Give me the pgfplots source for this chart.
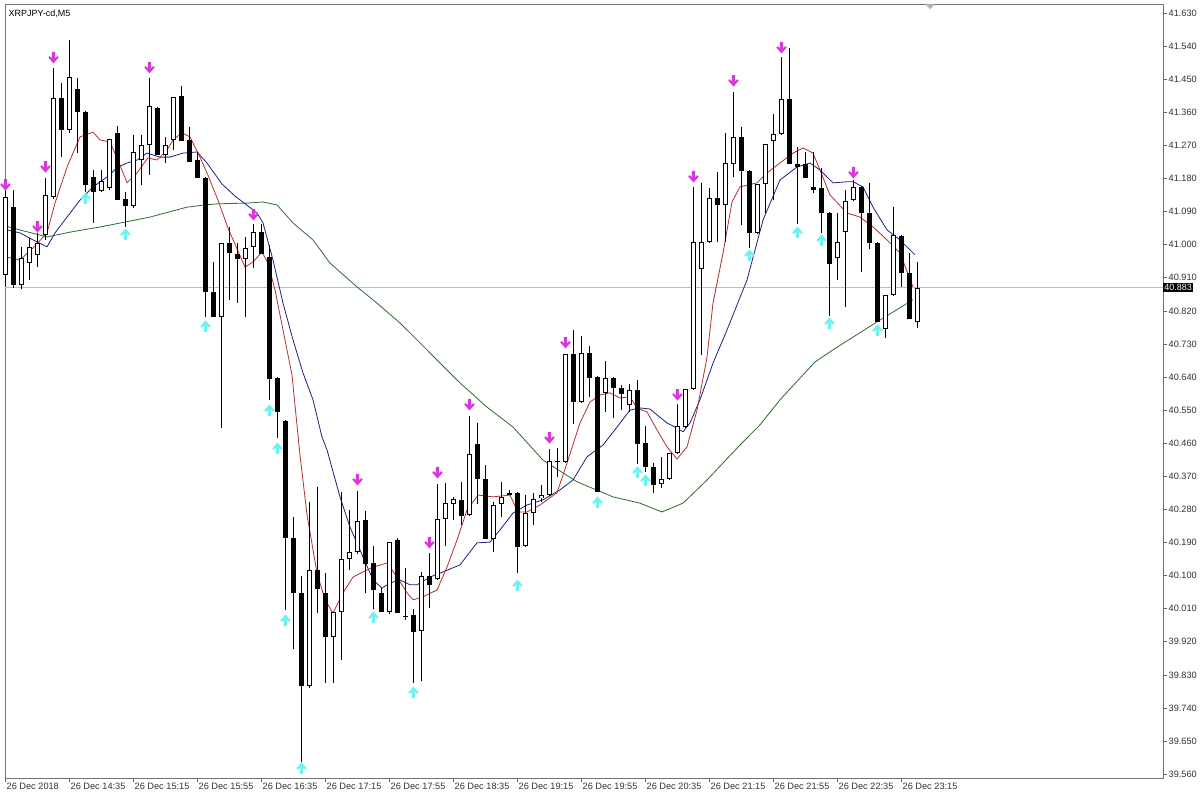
\documentclass[border=0pt]{standalone}
\usepackage{pgfplots}
\pgfplotsset{compat=1.18}
\usepackage{pgfplotstable}
\usepackage{fontspec}
\setmainfont{Liberation Sans}

\definecolor{magarrow}{RGB}{216,56,216}
\definecolor{cyanarrow}{RGB}{112,240,240}
\definecolor{fastma}{RGB}{176,48,48}
\definecolor{midma}{RGB}{32,32,128}
\definecolor{slowma}{RGB}{46,107,46}

\pgfdeclareplotmark{dnarrow}{%
  \pgfpathmoveto{\pgfpoint{-1.7bp}{6bp}}%
  \pgfpathlineto{\pgfpoint{1.7bp}{6bp}}%
  \pgfpathlineto{\pgfpoint{1.7bp}{-0.3bp}}%
  \pgfpathlineto{\pgfpoint{3.8bp}{1.8bp}}%
  \pgfpathlineto{\pgfpoint{5.2bp}{0.4bp}}%
  \pgfpathlineto{\pgfpoint{0bp}{-5.6bp}}%
  \pgfpathlineto{\pgfpoint{-5.2bp}{0.4bp}}%
  \pgfpathlineto{\pgfpoint{-3.8bp}{1.8bp}}%
  \pgfpathlineto{\pgfpoint{-1.7bp}{-0.3bp}}%
  \pgfpathclose\pgfusepathqfill}
\pgfdeclareplotmark{uparrow}{%
  \pgfpathmoveto{\pgfpoint{-1.7bp}{-6bp}}%
  \pgfpathlineto{\pgfpoint{1.7bp}{-6bp}}%
  \pgfpathlineto{\pgfpoint{1.7bp}{0.3bp}}%
  \pgfpathlineto{\pgfpoint{3.8bp}{-1.8bp}}%
  \pgfpathlineto{\pgfpoint{5.2bp}{-0.4bp}}%
  \pgfpathlineto{\pgfpoint{0bp}{5.6bp}}%
  \pgfpathlineto{\pgfpoint{-5.2bp}{-0.4bp}}%
  \pgfpathlineto{\pgfpoint{-3.8bp}{-1.8bp}}%
  \pgfpathlineto{\pgfpoint{-1.7bp}{0.3bp}}%
  \pgfpathclose\pgfusepathqfill}

% bullish (white) candles: index, open, high, low, close
\pgfplotstableread{
k o h l c
0 40.918 41.149 40.885 41.130
2 40.890 40.994 40.879 40.964
3 40.950 41.018 40.904 40.994
4 40.972 41.032 40.939 41.005
5 41.026 41.181 41.013 41.135
6 41.130 41.481 41.125 41.399
8 41.312 41.557 41.304 41.456
12 41.146 41.203 41.143 41.173
13 41.154 41.287 41.150 41.287
16 41.105 41.298 41.100 41.252
17 41.230 41.298 41.162 41.271
18 41.271 41.453 41.189 41.377
20 41.244 41.293 41.222 41.271
21 41.285 41.402 41.258 41.402
27 40.803 41.005 40.501 41.005
30 40.961 41.021 40.803 40.991
31 40.994 41.056 40.937 41.034
38 39.800 40.300 39.795 40.115
41 39.933 40.001 39.808 40.001
42 40.001 40.327 39.871 40.145
43 40.145 40.278 40.115 40.164
44 40.164 40.330 40.160 40.248
48 40.001 40.191 39.996 40.191
52 39.949 40.110 39.813 40.099
54 40.091 40.349 40.088 40.254
55 40.254 40.352 40.181 40.297
56 40.295 40.314 40.251 40.308
58 40.265 40.534 40.262 40.431
61 40.200 40.300 40.164 40.292
62 40.295 40.355 40.259 40.314
65 40.181 40.319 40.178 40.270
66 40.270 40.325 40.238 40.308
67 40.311 40.346 40.300 40.319
68 40.319 40.444 40.316 40.412
70 40.409 40.703 40.406 40.703
72 40.572 40.752 40.569 40.705
75 40.597 40.684 40.545 40.637
78 40.564 40.621 40.545 40.605
82 40.349 40.423 40.338 40.363
83 40.363 40.433 40.360 40.433
84 40.433 40.567 40.430 40.507
85 40.504 40.608 40.501 40.608
86 40.608 41.157 40.605 41.007
87 40.934 41.168 40.700 41.007
88 41.007 41.154 41.004 41.127
90 41.108 41.304 41.007 41.222
91 41.219 41.415 41.184 41.293
94 41.032 41.165 41.029 41.165
95 41.165 41.274 41.086 41.274
96 41.282 41.355 41.121 41.301
97 41.301 41.510 41.298 41.396
104 40.964 41.086 40.904 41.007
105 41.034 41.149 40.831 41.119
106 41.121 41.176 41.118 41.157
110 40.771 40.863 40.746 40.863
111 40.863 41.102 40.860 41.026
114 40.790 40.953 40.773 40.882
}\bull

% bearish (black) candles
\pgfplotstableread{
k o h l c
1 41.102 41.149 40.882 40.890
7 41.399 41.440 41.238 41.312
9 41.423 41.453 41.249 41.361
10 41.361 41.364 41.143 41.162
11 41.184 41.203 41.059 41.143
14 41.304 41.323 41.121 41.121
15 41.124 41.143 41.048 41.105
19 41.372 41.375 41.244 41.244
22 41.404 41.432 41.282 41.282
23 41.285 41.320 41.225 41.225
24 41.230 41.252 41.181 41.181
25 41.181 41.184 40.803 40.871
26 40.871 40.953 40.803 40.803
28 41.005 41.048 40.850 40.977
29 40.975 41.005 40.841 40.961
32 41.034 41.056 40.975 40.975
33 40.966 40.999 40.578 40.635
34 40.637 40.640 40.474 40.545
35 40.520 40.523 40.006 40.202
36 40.202 40.259 39.900 40.053
37 40.053 40.099 39.593 39.800
39 40.115 40.341 39.998 40.064
40 40.053 40.107 39.808 39.933
45 40.251 40.276 40.053 40.132
46 40.134 40.181 40.009 40.061
47 40.053 40.066 40.001 40.001
49 40.197 40.202 39.998 39.998
50 39.990 40.121 39.979 39.988
51 39.993 40.009 39.808 39.947
53 40.099 40.161 40.012 40.074
57 40.306 40.355 40.238 40.262
59 40.458 40.515 40.295 40.363
60 40.363 40.401 40.200 40.200
63 40.325 40.333 40.319 40.319
64 40.325 40.328 40.107 40.178
69 40.412 40.447 40.368 40.409
71 40.703 40.768 40.512 40.572
73 40.705 40.724 40.586 40.637
74 40.640 40.643 40.327 40.327
76 40.637 40.640 40.529 40.610
77 40.610 40.618 40.550 40.594
79 40.605 40.632 40.404 40.458
80 40.461 40.507 40.382 40.395
81 40.395 40.406 40.325 40.346
89 41.127 41.198 41.007 41.108
92 41.293 41.320 41.054 41.200
93 41.200 41.203 40.991 41.032
98 41.396 41.535 41.219 41.219
99 41.219 41.266 41.056 41.211
100 41.219 41.252 41.181 41.181
101 41.157 41.252 41.141 41.149
102 41.154 41.209 41.032 41.086
103 41.086 41.089 40.806 40.947
107 41.157 41.160 40.926 41.086
108 41.086 41.168 40.988 41.005
109 41.005 41.008 40.790 40.790
112 41.024 41.027 40.885 40.923
113 40.923 40.977 40.798 40.798
}\bear

\pgfplotstableread{
k p
0 41.162
4 41.048
5 41.211
6 41.508
18 41.481
31 41.081
44 40.360
53 40.189
54 40.379
58 40.564
68 40.474
70 40.733
84 40.591
86 41.184
91 41.445
97 41.535
106 41.195
}\sellarrows

\pgfplotstableread{
k p
10 41.127
15 41.029
25 40.779
33 40.550
34 40.447
35 39.979
37 39.577
46 39.987
51 39.783
64 40.074
74 40.300
79 40.382
80 40.360
93 40.972
99 41.034
102 41.013
103 40.787
109 40.768
}\buyarrows

\pgfplotstableread{
k p
0.19 40.966
1.81 40.958
3.44 40.991
5.19 41.032
6.19 41.113
7.69 41.211
9.31 41.293
10.94 41.306
11.81 41.285
13.06 41.279
14.06 41.230
15.19 41.168
16.44 41.195
17.81 41.236
18.94 41.230
20.19 41.257
20.94 41.285
22.06 41.304
23.06 41.293
24.31 41.238
25.31 41.189
26.56 41.121
27.81 41.045
29.94 40.939
30.94 40.953
32.06 40.980
32.81 40.950
33.69 40.877
34.69 40.768
35.81 40.646
36.81 40.428
37.69 40.265
38.94 40.107
39.94 40.034
40.94 39.998
42.19 40.053
43.44 40.096
44.69 40.110
45.94 40.123
47.69 40.134
48.94 40.096
50.19 40.053
50.94 40.034
52.19 40.042
53.94 40.061
55.19 40.123
56.44 40.197
57.69 40.278
59.06 40.319
60.94 40.314
63.06 40.319
64.06 40.273
65.19 40.273
66.81 40.292
68.94 40.325
70.19 40.406
71.81 40.515
73.06 40.572
74.31 40.591
75.56 40.597
76.81 40.583
78.06 40.586
78.94 40.556
80.19 40.545
81.44 40.496
82.69 40.450
83.94 40.417
85.19 40.450
86.44 40.550
87.69 40.694
88.44 40.841
89.69 40.977
90.81 41.116
91.81 41.157
93.94 41.168
95.19 41.195
96.81 41.222
98.44 41.249
99.69 41.263
100.94 41.249
101.81 41.203
103.06 41.135
105.19 41.086
106.81 41.075
108.44 41.048
110.19 41.013
111.81 40.977
113.44 40.885
}\fastma

\pgfplotstableread{
k p
0.19 41.040
1.81 41.032
3.44 41.013
5.19 40.994
6.19 41.032
7.69 41.075
9.31 41.121
10.94 41.157
12.69 41.184
14.06 41.211
15.19 41.222
16.44 41.230
17.69 41.249
19.31 41.238
20.56 41.238
22.19 41.249
23.94 41.252
25.19 41.222
27.06 41.165
28.69 41.132
30.31 41.105
31.44 41.086
32.19 41.059
33.44 40.958
34.69 40.841
35.94 40.741
37.19 40.651
38.44 40.578
39.56 40.477
40.19 40.442
41.81 40.314
43.06 40.232
44.69 40.151
45.94 40.088
47.06 40.066
48.06 40.080
49.31 40.088
50.56 40.075
51.44 40.075
53.06 40.096
54.69 40.110
56.81 40.129
58.94 40.189
60.56 40.191
61.81 40.224
63.44 40.270
65.19 40.292
67.19 40.306
69.31 40.333
70.94 40.360
72.69 40.423
74.69 40.455
76.44 40.504
78.06 40.550
79.31 40.556
80.56 40.553
81.44 40.537
82.69 40.515
83.94 40.501
84.69 40.491
85.56 40.515
86.81 40.578
88.44 40.678
90.19 40.768
92.69 40.904
94.69 41.067
96.81 41.176
98.94 41.211
100.56 41.222
101.81 41.203
103.44 41.168
105.19 41.171
105.94 41.171
107.19 41.157
108.44 41.102
110.19 41.040
111.81 41.013
113.69 40.972
}\midmaT

\pgfplotstableread{
k p
-0.06 41.051
1.81 41.040
5.19 41.021
8.06 41.034
11.81 41.048
18.06 41.075
22.69 41.102
24.94 41.108
26.44 41.111
30.19 41.113
32.19 41.116
33.94 41.108
35.94 41.059
38.44 41.013
40.56 40.950
43.94 40.885
46.44 40.841
49.31 40.787
51.81 40.733
54.31 40.678
56.81 40.624
60.19 40.558
63.44 40.504
67.19 40.414
71.44 40.355
75.94 40.314
79.31 40.297
82.06 40.273
84.69 40.297
87.69 40.360
91.81 40.455
94.31 40.510
96.81 40.578
99.31 40.637
101.19 40.681
103.44 40.714
108.94 40.790
113.44 40.850
}\slowmaT

\begin{document}
\begin{tikzpicture}
\useasboundingbox (0,0) rectangle (1204bp,800bp);
\fill[white] (0,0) rectangle (1204bp,800bp);
\begin{axis}[
  at={(5bp,22bp)}, anchor=south west,
  scale only axis, width=1158bp, height=774bp,
  xmin=-0.0625, xmax=144.6875,
  ymin=39.5495, ymax=41.6545,
  clip=false,
  axis line style={draw=black!55, line width=0.9bp},
  xtick pos=left, ytick pos=right,
  tick align=outside,
  major tick length=4bp,
  tick style={black!60, line width=0.6bp},
  font=\fontsize{9.2bp}{11bp}\selectfont,
  ytick={39.56,39.65,39.74,39.83,39.92,40.01,40.10,40.19,40.28,40.37,40.46,40.55,40.64,40.73,40.82,40.91,41.00,41.09,41.18,41.27,41.36,41.45,41.54,41.63},
  yticklabels={39.560,39.650,39.740,39.830,39.920,40.010,40.100,40.190,40.280,40.370,40.460,40.550,40.640,40.730,40.820,40.910,41.000,41.090,41.180,41.270,41.360,41.450,41.540,41.630},
  yticklabel style={anchor=west, inner sep=0pt, xshift=1.5bp, text=black!80},
  xtick={0,8,16,24,32,40,48,56,64,72,80,88,96,104,112},
  xticklabels={26 Dec 2018,26 Dec 14:35,26 Dec 15:15,26 Dec 15:55,26 Dec 16:35,26 Dec 17:15,26 Dec 17:55,26 Dec 18:35,26 Dec 19:15,26 Dec 19:55,26 Dec 20:35,26 Dec 21:15,26 Dec 21:55,26 Dec 22:35,26 Dec 23:15},
  xticklabel style={anchor=north west, inner sep=0pt, xshift=1bp, yshift=-1bp, text=black!80},
]
% current price line
\addplot[black!25, line width=0.7bp, forget plot] coordinates {(-0.0625,40.883) (144.6875,40.883)};

% moving averages
\addplot[slowma, line width=0.8bp, line join=round] table[x=k, y=p] {\slowmaT};
\addplot[midma, line width=0.8bp, line join=round] table[x=k, y=p] {\midmaT};
\addplot[fastma, line width=0.8bp, line join=round] table[x=k, y=p] {\fastma};

% wicks
\addplot[draw=none, mark=none, forget plot, error bars/.cd, y dir=both, y explicit, error mark=none,
  error bar style={draw=black, line width=1bp}]
  table[x=k, y expr={(\thisrow{h}+\thisrow{l})/2}, y error expr={(\thisrow{h}-\thisrow{l})/2}] {\bull};
\addplot[draw=none, mark=none, forget plot, error bars/.cd, y dir=both, y explicit, error mark=none,
  error bar style={draw=black, line width=1bp}]
  table[x=k, y expr={(\thisrow{h}+\thisrow{l})/2}, y error expr={(\thisrow{h}-\thisrow{l})/2}] {\bear};

% bodies
\addplot[draw=none, mark=none, forget plot, error bars/.cd, y dir=both, y explicit, error mark=none,
  error bar style={draw=black, line width=5.6bp}]
  table[x=k, y expr={(\thisrow{o}+\thisrow{c})/2}, y error expr={max(abs(\thisrow{o}-\thisrow{c})/2,0.0016)}] {\bear};
\addplot[draw=none, mark=none, forget plot, error bars/.cd, y dir=both, y explicit, error mark=none,
  error bar style={draw=black, line width=5.6bp}]
  table[x=k, y expr={(\thisrow{o}+\thisrow{c})/2}, y error expr={max(abs(\thisrow{o}-\thisrow{c})/2,0.0016)}] {\bull};
\addplot[draw=none, mark=none, forget plot, error bars/.cd, y dir=both, y explicit, error mark=none,
  error bar style={draw=white, line width=3.6bp}]
  table[x=k, y expr={(\thisrow{o}+\thisrow{c})/2}, y error expr={max(abs(\thisrow{o}-\thisrow{c})/2-0.0027,0)}] {\bull};

% signal arrows
\addplot[only marks, mark=dnarrow, color=magarrow] table[x=k, y=p] {\sellarrows};
\addplot[only marks, mark=uparrow, color=cyanarrow] table[x=k, y=p] {\buyarrows};

% current price tag and chart title
\node[fill=black, text=white, anchor=west, inner sep=1.2bp, font=\fontsize{9bp}{10bp}\selectfont] at (axis cs:144.6875,40.883) {40.883};
\node[anchor=north west, inner sep=0pt, font=\fontsize{9bp}{10bp}\selectfont] at (rel axis cs:0.003,0.993) {XRPJPY-cd,M5};
\fill[black!30] (rel axis cs:0.7945,1) -- (rel axis cs:0.8031,1) -- (rel axis cs:0.7988,0.9935) -- cycle;
\end{axis}
\end{tikzpicture}
\end{document}
